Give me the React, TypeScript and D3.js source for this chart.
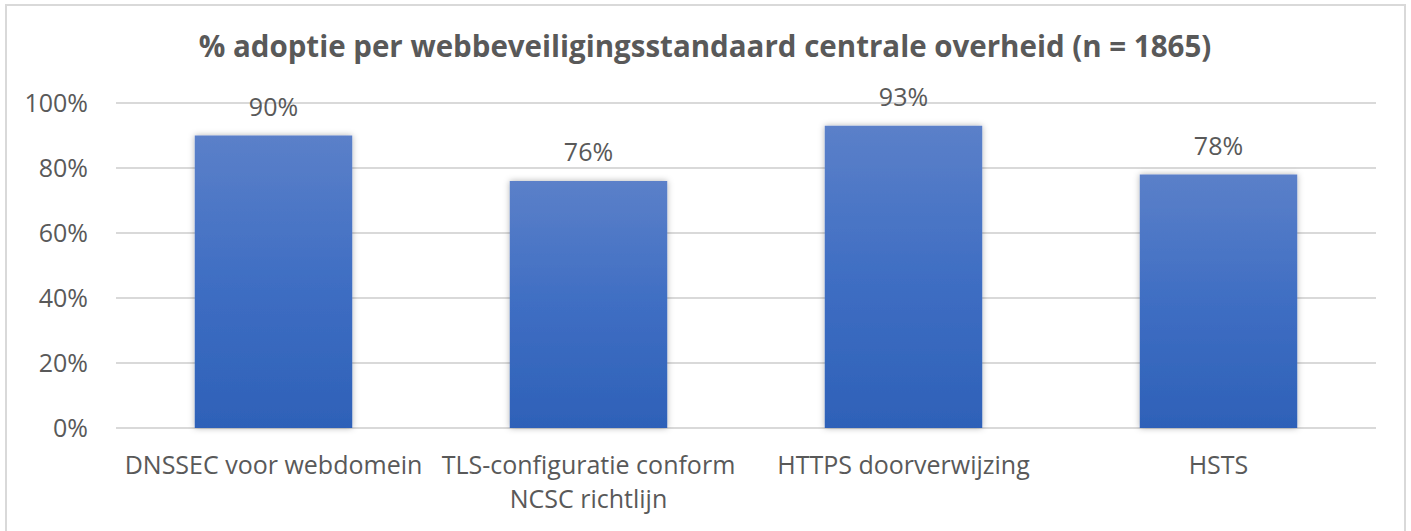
import React from "react";
import * as d3 from "d3";

const categories: string[][] = [
  ["DNSSEC voor webdomein"],
  ["TLS-configuratie conform", "NCSC richtlijn"],
  ["HTTPS doorverwijzing"],
  ["HSTS"],
];
const values: number[] = [0.9, 0.76, 0.93, 0.78];
const valueLabels: string[] = ["90%", "76%", "93%", "78%"];
const yTicks: number[] = [0, 0.2, 0.4, 0.6, 0.8, 1.0];
const title = "% adoptie per webbeveiligingsstandaard centrale overheid (n = 1865)";

const W = 1411;
const H = 531;
const FONT = "'Open Sans', 'Noto Sans', sans-serif";
const TEXT = "#595959";
const GRID = "#D9D9D9";

export default function App() {
  const plotLeft = 116;
  const plotRight = 1376;
  const plotTop = 103;
  const plotBottom = 428;

  const x = d3
    .scaleBand<number>()
    .domain(d3.range(values.length))
    .range([plotLeft, plotRight])
    .paddingInner(0.5)
    .paddingOuter(0.25);
  const y = d3.scaleLinear().domain([0, 1]).range([plotBottom, plotTop]);
  const fmt = d3.format(".0%");

  return (
    <svg
      width={W}
      height={H}
      style={{ position: "absolute", left: 0, top: 0, background: "#fff" }}
      fontFamily={FONT}
    >
      <defs>
        <linearGradient id="barGrad" x1="0" y1="0" x2="0" y2="1">
          <stop offset="0" stopColor="#5B80C9" />
          <stop offset="0.5" stopColor="#3F6EC3" />
          <stop offset="1" stopColor="#2E61B8" />
        </linearGradient>
        <filter id="shadow" x="-20%" y="-20%" width="140%" height="140%">
          <feDropShadow dx="0" dy="0" stdDeviation="3" floodColor="#000" floodOpacity="0.3" />
        </filter>
      </defs>
      <rect x={0} y={0} width={W} height={H} fill="#fff" />
      <rect x={6} y={5} width={1399} height={H + 10} fill="none" stroke={GRID} strokeWidth={2} />

      <text
        x={705}
        y={57}
        textAnchor="middle"
        fontSize={29.5}
        fontWeight="bold"
        fill={TEXT}
      >
        {title}
      </text>

      {yTicks.map((t) => (
        <g key={t}>
          <line x1={plotLeft} x2={plotRight} y1={y(t)} y2={y(t)} stroke={GRID} strokeWidth={2} />
          <text x={88} y={y(t)} dy="0.35em" textAnchor="end" fontSize={25} fill={TEXT}>
            {fmt(t)}
          </text>
        </g>
      ))}

      {values.map((v, i) => (
        <g key={i}>
          <rect
            x={x(i)!}
            y={y(v)}
            width={x.bandwidth()}
            height={y(0) - y(v)}
            fill="url(#barGrad)"
            filter="url(#shadow)"
          />
          <text
            x={x(i)! + x.bandwidth() / 2}
            y={y(v) - 20}
            textAnchor="middle"
            fontSize={25}
            fill={TEXT}
          >
            {valueLabels[i]}
          </text>
          {categories[i].map((line, j) => (
            <text
              key={j}
              x={x(i)! + x.bandwidth() / 2}
              y={474 + j * 34}
              textAnchor="middle"
              fontSize={25}
              fill={TEXT}
            >
              {line}
            </text>
          ))}
        </g>
      ))}
    </svg>
  );
}
